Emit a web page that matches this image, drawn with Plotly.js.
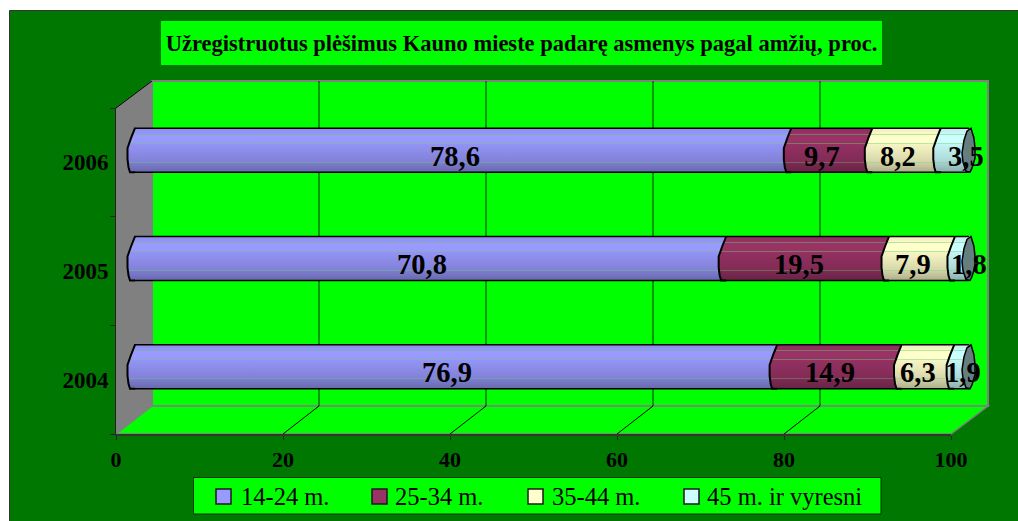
<!DOCTYPE html>
<html>
<head>
<meta charset="utf-8">
<script src="https://cdn.plot.ly/plotly-3.0.1.min.js"></script>
<style>
html, body { margin: 0; padding: 0; background: #fff; }
#myGraph { width: 1018px; height: 521px; }
</style>
</head>
<body>
<div id="myGraph"></div>
<script>
var years = [2004, 2005, 2006];
var seriesNames = ['14-24 m.', '25-34 m.', '35-44 m.', '45 m. ir vyresni'];
var age14_24 = [76.9, 70.8, 78.6];
var age25_34 = [14.9, 19.5, 9.7];
var age35_44 = [6.3, 7.9, 8.2];
var age45plus = [1.9, 1.8, 3.5];
var xTicks = [0, 20, 40, 60, 80, 100];

var chartTitle = 'Užregistruotus plėšimus Kauno mieste padarę asmenys pagal amžių, proc.';

var seriesValues = [age14_24, age25_34, age35_44, age45plus];
var seriesColors = ['#9999FF', '#993366', '#FFFFCC', '#CCFFFF'];

// label nudges in px, same order as the series
var labelNudge = [[-8, -8, -7], [-8, -8, -9], [-9, -8, -8], [2, 8, 12]];
// legend swatch left edge and text left edge, px
var legendSwatchX = [216, 372, 528, 684];
var legendTextX = [240, 394, 551, 706];

var W = 1018, H = 521;
function px(x) { return x / W; }
function py(y) { return 1 - y / H; }

// offset, shade of the colour, how much green streak is mixed in
var gradientBands = [
    [0, 0.92, 0], [0.125, 0.98, 0], [0.125, 0.98, 0.45], [0.15, 0.98, 0.45], [0.15, 1, 0],
    [0.33, 1, 0], [0.33, 1, 0.45], [0.355, 1, 0.45], [0.355, 0.96, 0],
    [0.5, 0.92, 0], [0.76, 0.84, 0], [0.76, 0.84, 0.35], [0.785, 0.84, 0.35], [0.785, 0.82, 0],
    [1, 0.68, 0]
];

var data = [];
seriesNames.forEach(function (name, i) {
    var base = years.map(function (y, j) {
        var sum = 0;
        for (var k = 0; k < i; k++) sum += seriesValues[k][j];
        return sum;
    });
    data.push({
        type: 'bar',
        orientation: 'h',
        name: name,
        y: years,
        x: seriesValues[i],
        base: base,
        xaxis: 'x2',
        yaxis: 'y2',
        width: 0.405,
        marker: { color: seriesColors[i], line: { width: 0 } },
        hoverinfo: 'x+name'
    });
});

var shapes = [];
var annotations = [];
var gradientShapes = [];

// frame, walls, floor
function poly(points, fill, line, lineWidth) {
    var d = points.map(function (p, i) {
        return (i ? 'L' : 'M') + px(p[0]) + ',' + py(p[1]);
    }).join(' ') + ' Z';
    shapes.push({
        type: 'path', xref: 'paper', yref: 'paper', layer: 'below', path: d,
        fillcolor: fill, line: { color: line, width: lineWidth }
    });
}
poly([[9.5, 10.5], [1020, 10.5], [1020, 523], [9.5, 523]], '#007700', '#333333', 1);
poly([[152, 81], [988, 81], [988, 406], [152, 406]], '#00FF00', '#808080', 2);
poly([[116, 108], [152, 81], [152, 406], [116, 434]], '#808080', '#808080', 1);
poly([[116, 434], [152, 406], [988, 406], [951, 434]], '#00FF00', '#808080', 1.5);

xTicks.forEach(function (t) {
    if (t > 0 && t < 100) {
        // floor part hangs off the front axis tick
        shapes.push({
            type: 'path', xref: 'x', yref: 'y', layer: 'below',
            xsizemode: 'pixel', ysizemode: 'pixel', xanchor: t, yanchor: 2003.5,
            path: 'M0,0 L36,28', line: { color: '#000000', width: 1 }
        });
        shapes.push({
            type: 'line', xref: 'x', yref: 'paper', layer: 'below',
            xsizemode: 'pixel', xanchor: t, x0: 36, x1: 36, y0: py(406), y1: py(81),
            line: { color: '#003300', width: 1 }
        });
    }
});
shapes.push({
    type: 'path', xref: 'paper', yref: 'paper', layer: 'below',
    path: 'M' + px(116) + ',' + py(108) + ' L' + px(152) + ',' + py(81),
    line: { color: '#000000', width: 1 }
});

// left bulge of each segment, cap on the end
var bulgeFill = 'M4,22 L1,22 L-3,12 L-6.5,2 L-6.5,-9 L-5.5,-17 L-4,-22 L4,-22 Z';
var bulgeEdge = 'M1,22 L-3,12 L-6.5,2 L-6.5,-9 L-5.5,-17 L-4,-22 L1,-22';
var cap = 'M2,22 L5,12 L6,2 L6,-8 L3,-18 L1,-22 L-3,-21 L-6,-12 L-7,-3 L-5,10 L-2,19 Z';

years.forEach(function (year, j) {
    var sum = 0;
    seriesValues.forEach(function (values, i) {
        var v = values[j];
        gradientShapes[shapes.length] = i;
        shapes.push({
            type: 'path', xref: 'x2', yref: 'y2', layer: 'above',
            xsizemode: 'pixel', ysizemode: 'pixel', xanchor: sum, yanchor: year,
            path: bulgeFill, fillcolor: seriesColors[i], line: { width: 0 }
        });
        shapes.push({
            type: 'path', xref: 'x2', yref: 'y2', layer: 'above',
            xsizemode: 'pixel', ysizemode: 'pixel', xanchor: sum, yanchor: year,
            path: bulgeEdge, fillcolor: 'rgba(0,0,0,0)', line: { color: '#000000', width: 2 }
        });
        annotations.push({
            xref: 'x2', yref: 'y2', x: sum + v / 2, y: year,
            text: v.toFixed(1).replace('.', ','), showarrow: false,
            xshift: labelNudge[i][j], yshift: -6,
            font: { family: 'Liberation Serif', size: 28.5, color: '#000000', weight: 'bold' }
        });
        sum += v;
    });
    [22, -22].forEach(function (off) {
        shapes.push({
            type: 'line', xref: 'x2', yref: 'y2', layer: 'above',
            ysizemode: 'pixel', yanchor: year, x0: 0, x1: 100, y0: off, y1: off,
            line: { color: '#000000', width: 1.5 }
        });
    });
    shapes.push({
        type: 'path', xref: 'x2', yref: 'y2', layer: 'above',
        xsizemode: 'pixel', ysizemode: 'pixel', xanchor: 100, yanchor: year,
        path: cap, fillcolor: '#657F80', line: { color: '#000000', width: 1.5 }
    });
});

annotations.push({
    xref: 'paper', yref: 'paper', x: px(521.5), y: py(43), xanchor: 'center', yanchor: 'middle',
    showarrow: false, text: '<b>' + chartTitle + '</b>', width: 721, height: 44,
    bgcolor: '#00FF00', valign: 'middle', borderpad: 0, borderwidth: 0,
    font: { family: 'Liberation Serif', size: 22.5, color: '#000000' }
});

// legend box, drawn by hand because the built-in one cannot take this swatch size
poly([[193.5, 477.5], [881, 477.5], [881, 514], [193.5, 514]], '#00FF00', '#003300', 1);
seriesNames.forEach(function (name, i) {
    poly([[legendSwatchX[i], 489], [legendSwatchX[i] + 15, 489], [legendSwatchX[i] + 15, 504], [legendSwatchX[i], 504]],
        seriesColors[i], '#1a1a1a', 1.5);
    annotations.push({
        xref: 'paper', yref: 'paper', x: px(legendTextX[i]), y: py(496), xanchor: 'left', yanchor: 'middle',
        showarrow: false, text: name, borderpad: 0,
        font: { family: 'Liberation Serif', size: 24.5, color: '#000000' }
    });
});

var layout = {
    width: W,
    height: H,
    margin: { l: 0, r: 0, t: 0, b: 0, pad: 0 },
    paper_bgcolor: '#FFFFFF',
    plot_bgcolor: 'rgba(0,0,0,0)',
    barmode: 'overlay',
    showlegend: false,
    // front axes carry the ticks
    xaxis: {
        domain: [px(116), px(951)], range: [0, 100], anchor: 'y',
        tickvals: xTicks, ticks: 'outside', ticklen: 4, tickcolor: '#222222',
        showgrid: false, zeroline: false, showline: true, linecolor: '#333333', linewidth: 1.5,
        ticklabelstandoff: 1,
        tickfont: { family: 'Liberation Serif', size: 22, color: '#000000', weight: 'bold' }
    },
    yaxis: {
        domain: [py(434), py(108)], range: [2003.5, 2006.5], anchor: 'x',
        tickvals: years, ticks: '', showgrid: false, zeroline: false,
        showline: true, linecolor: '#222222', linewidth: 1, ticklabelstandoff: 2,
        minor: { tickvals: [2003.5, 2004.5, 2005.5, 2006.5], ticks: 'outside', ticklen: 5, tickcolor: '#222222' },
        tickfont: { family: 'Liberation Serif', size: 23, color: '#000000', weight: 'bold' }
    },
    // bars sit half way into the depth of the box, range padded so the caps are not clipped
    xaxis2: { domain: [px(134 - 16.7), px(969 + 16.7)], range: [-2, 102], anchor: 'y2', visible: false },
    yaxis2: { domain: [py(421), py(96)], range: [2003.5, 2006.5], anchor: 'x2', visible: false },
    shapes: shapes,
    annotations: annotations
};

var config = { displayModeBar: false, responsive: false };

Plotly.newPlot('myGraph', data, layout, config).then(function () {
    var Graph = document.getElementById('myGraph');
    var svg = Graph.querySelector('.main-svg');
    var defs = svg.querySelector('defs');
    var ns = 'http://www.w3.org/2000/svg';

    // plotly bars cannot take a gradient, so it goes on afterwards
    var streak = [102, 204, 102];
    seriesColors.forEach(function (color, i) {
        var grad = document.createElementNS(ns, 'linearGradient');
        grad.setAttribute('id', 'cyl' + i);
        grad.setAttribute('x1', '0'); grad.setAttribute('y1', '0');
        grad.setAttribute('x2', '0'); grad.setAttribute('y2', '1');
        gradientBands.forEach(function (b) {
            var stop = document.createElementNS(ns, 'stop');
            stop.setAttribute('offset', b[0]);
            var rgb = [1, 3, 5].map(function (p, k) {
                var c = parseInt(color.substr(p, 2), 16) * b[1];
                return Math.round(c * (1 - b[2]) + streak[k] * b[2]);
            });
            stop.setAttribute('stop-color', 'rgb(' + rgb.join(',') + ')');
            grad.appendChild(stop);
        });
        defs.appendChild(grad);
    });

    Graph.querySelectorAll('.barlayer .trace.bars').forEach(function (tr, i) {
        tr.querySelectorAll('path').forEach(function (p) {
            p.style.fill = 'url(#cyl' + i + ')';
        });
    });
    Graph.querySelectorAll('.shapelayer path[data-index]').forEach(function (p) {
        var idx = +p.getAttribute('data-index');
        if (gradientShapes[idx] !== undefined) p.style.fill = 'url(#cyl' + gradientShapes[idx] + ')';
    });
});
</script>
</body>
</html>
